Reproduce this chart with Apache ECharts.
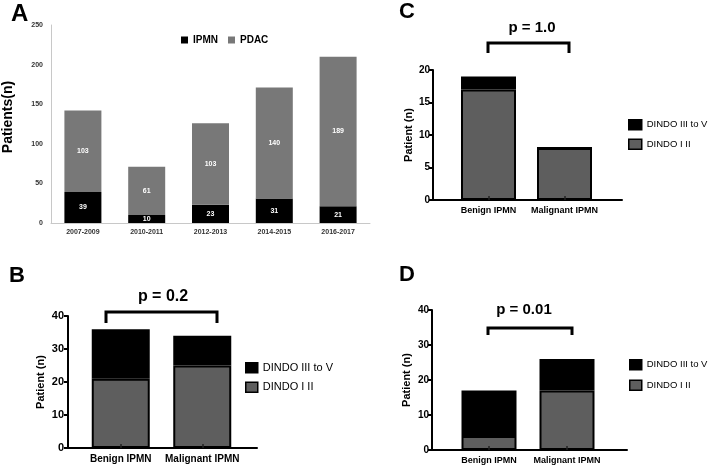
<!DOCTYPE html>
<html>
<head>
<meta charset="utf-8">
<script src="https://cdn.jsdelivr.net/npm/echarts@6/dist/echarts.min.js"></script>
<style>
html,body{margin:0;padding:0;background:#fff;}
#c{width:709px;height:469px;}
</style>
</head>
<body>
<div id="c"></div>
<script>
// ---- data ----
const yearCats = ['2007-2009', '2010-2011', '2012-2013', '2014-2015', '2016-2017'];
const ipmnCounts = [39, 10, 23, 31, 21];
const pdacCounts = [103, 61, 103, 140, 189];
const groupCats = ['Benign IPMN', 'Malignant IPMN'];
const bDindoI_II = [21, 25];
const bDindoIII_V = [15, 9];
const cDindoI_II = [17, 8];
const cDindoIII_V = [2, 0];
const dDindoI_II = [4, 17];
const dDindoIII_V = [13, 9];
const panelLetters = ['A', 'B', 'C', 'D'];
const pTexts = ['p = 0.2', 'p = 1.0', 'p = 0.01'];
const seriesNames = ['IPMN', 'PDAC', 'DINDO III to V', 'DINDO I II'];

const FONT = 'Liberation Sans, Arial, Helvetica, sans-serif';
const GRAY_A = '#787878';
const GRAY = '#5e5e5e';
const BLACK = '#000';

const chart = echarts.init(document.getElementById('c'), null, {renderer: 'canvas'});

function outerX(gi) {
  return {type: 'value', gridIndex: gi, min: 0, max: 1,
    axisLine: {show: true, onZero: false, lineStyle: {color: BLACK, width: 2}},
    axisTick: {show: false}, axisLabel: {show: false}, splitLine: {show: false}};
}
function innerX(gi, fs) {
  return {type: 'category', gridIndex: gi, data: groupCats, z: 10,
    axisLine: {show: false},
    axisTick: {show: true, inside: true, alignWithLabel: true, interval: 0, length: 4, lineStyle: {color: '#222', width: 1.5}},
    axisLabel: {fontFamily: FONT, fontWeight: 'bold', fontSize: fs, color: BLACK, margin: 6, interval: 0}};
}
function outerY(gi, max, interval, fs, nameGap, nameFs, margin) {
  return {type: 'value', gridIndex: gi, min: 0, max: max, interval: interval,
    name: 'Patient (n)', nameLocation: 'middle', nameGap: nameGap,
    nameTextStyle: {fontFamily: FONT, fontWeight: 'bold', fontSize: nameFs, color: BLACK},
    axisLine: {show: true, lineStyle: {color: BLACK, width: 2}},
    axisTick: {show: true, length: 4, lineStyle: {color: BLACK, width: 2}},
    axisLabel: {fontFamily: FONT, fontWeight: 'bold', fontSize: fs, color: BLACK, margin: margin},
    splitLine: {show: false}};
}
function innerY(gi, max) {
  return {type: 'value', gridIndex: gi, min: 0, max: max, show: false, splitLine: {show: false}};
}
function stackPair(xi, yi, stackName, lower, upper, bw) {
  return [
    {name: 'DINDO I II', type: 'bar', xAxisIndex: xi, yAxisIndex: yi, stack: stackName, data: lower,
      barWidth: bw, itemStyle: {color: GRAY, borderColor: BLACK, borderWidth: 2}},
    {name: 'DINDO III to V', type: 'bar', xAxisIndex: xi, yAxisIndex: yi, stack: stackName, data: upper,
      barWidth: bw, itemStyle: {color: BLACK, borderColor: BLACK, borderWidth: 2}}
  ];
}
function dindoLegend(left, top, fs, iw, ih, gap) {
  return {left: left, top: top, orient: 'vertical', itemWidth: iw, itemHeight: ih, itemGap: gap,
    padding: 0, icon: 'rect',
    data: [seriesNames[2], seriesNames[3]], selectedMode: false,
    itemStyle: {borderColor: BLACK, borderWidth: 1.5},
    textStyle: {fontFamily: FONT, fontSize: fs, color: BLACK}};
}
function bracket(x1, x2, yTop, yBot) {
  return {type: 'polyline', shape: {points: [[x1, yBot], [x1, yTop], [x2, yTop], [x2, yBot]]},
    style: {stroke: BLACK, lineWidth: 3, fill: null}};
}
function txt(x, y, s, fs, align) {
  return {type: 'text', x: x, y: y,
    style: {text: s, fontFamily: FONT, fontWeight: 'bold', fontSize: fs, fill: BLACK,
      textAlign: align || 'center', textVerticalAlign: 'middle'}};
}

const option = {
  backgroundColor: '#fff',
  animation: false,
  grid: [
    {left: 50, top: 25, width: 320, height: 198},
    {left: 68, top: 316, width: 189, height: 132},
    {left: 80, top: 316, width: 163, height: 132},
    {left: 433, top: 70, width: 189, height: 130},
    {left: 450.5, top: 70, width: 152, height: 130},
    {left: 432, top: 310, width: 195, height: 140},
    {left: 450, top: 310, width: 156, height: 140}
  ],
  xAxis: [
    {type: 'category', gridIndex: 0, data: yearCats,
      axisLine: {show: true, lineStyle: {color: '#c8c8c8', width: 1}},
      axisTick: {show: false},
      axisLabel: {fontFamily: FONT, fontWeight: 'bold', fontSize: 7, color: '#333', margin: 6, interval: 0}},
    outerX(1), innerX(2, 10),
    outerX(3), innerX(4, 9),
    outerX(5), innerX(6, 9)
  ],
  yAxis: [
    {type: 'value', gridIndex: 0, min: 0, max: 250, interval: 50,
      name: 'Patients(n)', nameLocation: 'middle', nameGap: 36,
      nameTextStyle: {fontFamily: FONT, fontWeight: 'bold', fontSize: 14, color: BLACK, padding: [0, 0, 0, 14]},
      axisLine: {show: true, lineStyle: {color: '#c8c8c8', width: 1}},
      axisTick: {show: false},
      axisLabel: {fontFamily: FONT, fontWeight: 'bold', fontSize: 7, color: '#333', margin: 8},
      splitLine: {show: false}},
    outerY(1, 40, 10, 11, 22, 11, 4), innerY(2, 40),
    outerY(3, 20, 5, 10, 19, 11, 3), innerY(4, 20),
    outerY(5, 40, 10, 10, 20, 11, 3), innerY(6, 40)
  ],
  legend: [
    {left: 181, top: 35, itemWidth: 7, itemHeight: 7, itemGap: 10, selectedMode: false, padding: 0,
      data: [seriesNames[0], seriesNames[1]], icon: 'rect',
      textStyle: {fontFamily: FONT, fontWeight: 'bold', fontSize: 10, color: BLACK}},
    dindoLegend(245, 362, 11, 12, 10, 8),
    dindoLegend(628, 119, 9.5, 13, 10, 8),
    dindoLegend(629, 359, 9.5, 12, 10, 9)
  ],
  series: [
    {name: 'IPMN', type: 'bar', xAxisIndex: 0, yAxisIndex: 0, stack: 'a', data: ipmnCounts, barWidth: 37,
      itemStyle: {color: BLACK},
      label: {show: true, position: 'inside', color: '#fff', fontFamily: FONT, fontWeight: 'bold', fontSize: 7}},
    {name: 'PDAC', type: 'bar', xAxisIndex: 0, yAxisIndex: 0, stack: 'a', data: pdacCounts, barWidth: 37,
      itemStyle: {color: GRAY_A},
      label: {show: true, position: 'inside', color: '#fff', fontFamily: FONT, fontWeight: 'bold', fontSize: 7}},
    ...stackPair(2, 2, 'b', bDindoI_II, bDindoIII_V, 58),
    ...stackPair(4, 4, 'c', cDindoI_II, cDindoIII_V, 55),
    ...stackPair(6, 6, 'd', dDindoI_II, dDindoIII_V, 55)
  ],
  graphic: [
    {type: 'text', left: 11, top: 2, style: {text: panelLetters[0], fontFamily: FONT, fontWeight: 'bold', fontSize: 24, fill: BLACK}},
    {type: 'text', left: 9, top: 265, style: {text: panelLetters[1], fontFamily: FONT, fontWeight: 'bold', fontSize: 22, fill: BLACK}},
    {type: 'text', left: 399, top: 1, style: {text: panelLetters[2], fontFamily: FONT, fontWeight: 'bold', fontSize: 22, fill: BLACK}},
    {type: 'text', left: 399, top: 264, style: {text: panelLetters[3], fontFamily: FONT, fontWeight: 'bold', fontSize: 22, fill: BLACK}},
    txt(163, 297, pTexts[0], 16),
    txt(532, 28, pTexts[1], 15),
    txt(524, 310, pTexts[2], 15),
    bracket(106, 217, 312, 323),
    bracket(488, 569, 43, 53),
    bracket(488, 572, 328, 335)
  ]
};
chart.setOption(option);
</script>
</body>
</html>
